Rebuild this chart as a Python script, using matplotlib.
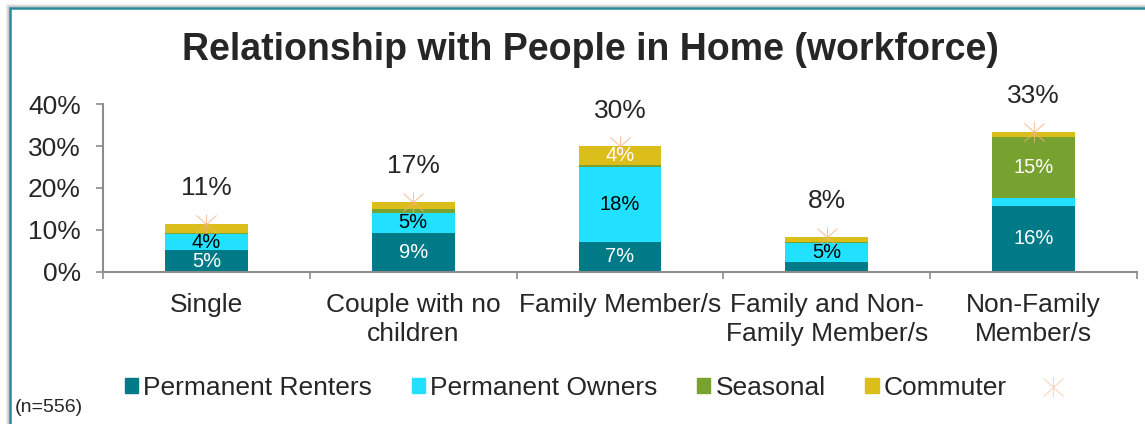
import matplotlib.pyplot as plt
from matplotlib.path import Path
from matplotlib.patches import Rectangle
from matplotlib.lines import Line2D

plt.rcParams['font.family'] = ['Liberation Sans', 'DejaVu Sans']

# data (percent of workforce)
categories = ["Single", "Couple with no\nchildren", "Family Member/s",
              "Family and Non-\nFamily Member/s", "Non-Family\nMember/s"]
renters = [5.1, 9.2, 7.2, 2.2, 15.8]
owners = [3.9, 4.9, 17.8, 4.7, 1.7]
seasonal = [0.2, 1.0, 0.6, 0.1, 14.6]
commuter = [2.2, 1.6, 4.4, 1.4, 1.3]

series_names = ["Permanent Renters", "Permanent Owners", "Seasonal", "Commuter"]
series_colors = ["#007A87", "#22E0FF", "#78A22F", "#DBBE1A"]
label_colors = ["white", "black", "white", "white"]

txt = "#262626"
axis_gray = "#8C8C8C"
star_col = "#F4B183"

# asterisk marker: X plus vertical stroke
star = Path([(-1, -0.9), (1, 0.9), (-1, 0.9), (1, -0.9), (0, -1), (0, 1)],
            [Path.MOVETO, Path.LINETO, Path.MOVETO, Path.LINETO, Path.MOVETO, Path.LINETO])

fig = plt.figure(figsize=(11.45, 4.24), dpi=100)
ax = fig.add_axes([103 / 1145, 1 - 271.7 / 424, 1034 / 1145, 167.4 / 424])

x = list(range(len(categories)))
all_series = [renters, owners, seasonal, commuter]
bottoms = [0.0] * len(categories)
for vals, name, col, lc in zip(all_series, series_names, series_colors, label_colors):
    ax.bar(x, vals, 0.40, bottom=bottoms, color=col, label=name)
    for i, v in enumerate(vals):
        if v >= 3.5:
            ax.text(i, bottoms[i] + v / 2, f"{v:.0f}%", ha="center", va="center",
                    color=lc, fontsize=14.5)
    bottoms = [b + v for b, v in zip(bottoms, vals)]

totals = bottoms
ax.plot(x, totals, linestyle="none", marker=star, markersize=14.5,
        markeredgecolor=star_col, markeredgewidth=0.8, alpha=0.75)
for i, t in enumerate(totals):
    ax.annotate(f"{t:.0f}%", (i, t), xytext=(0, 17), textcoords="offset points",
                ha="center", va="bottom", fontsize=19, color=txt)

ax.set_ylim(0, 40)
ax.set_xlim(-0.5, len(categories) - 0.5)
ax.set_yticks([0, 10, 20, 30, 40])
ax.set_yticklabels([f"{v}%" for v in [0, 10, 20, 30, 40]])
ax.tick_params(axis="y", length=5, width=1.2, color=axis_gray, labelsize=19,
               labelcolor=txt, pad=11)

ax.set_xticks([i - 0.5 for i in range(len(categories) + 1)])
ax.set_xticklabels([])
ax.set_xticks(x, minor=True)
ax.set_xticklabels(categories, minor=True, linespacing=1.3)
ax.tick_params(axis="x", which="major", length=5, width=1.2, color=axis_gray)
ax.tick_params(axis="x", which="minor", length=0, labelsize=19, labelcolor=txt, pad=15)

for s in ["top", "right"]:
    ax.spines[s].set_visible(False)
for s in ["left", "bottom"]:
    ax.spines[s].set_color(axis_gray)
    ax.spines[s].set_linewidth(1.5)

fig.text(590 / 1145, 1 - 50 / 424, "Relationship with People in Home (workforce)",
         ha="center", va="center", fontsize=27, fontweight="bold", color=txt)

handles = [Rectangle((0, 0), 1, 1, color=c) for c in series_colors]
handles.append(Line2D([], [], linestyle="none", marker=star, markersize=14.5,
                      markeredgecolor=star_col, markeredgewidth=0.8, alpha=0.5))
fig.legend(handles, series_names + [""], loc="center", ncol=5, frameon=False,
           bbox_to_anchor=(595 / 1145, 1 - 388 / 424), fontsize=19,
           handlelength=0.5, handleheight=0.5, handletextpad=0.2, columnspacing=1.5,
           labelcolor=txt)

fig.text(15 / 1145, 1 - 408 / 424, "(n=556)", ha="left", va="center",
         fontsize=14, color=txt)

# chart frame with soft shadow
for off, a in [(3, 0.10), (2, 0.18), (1, 0.28)]:
    fig.add_artist(Rectangle(((10 - off) / 1145, -0.1), 1.2, 1.1 - (8 - off) / 424,
                             transform=fig.transFigure, fill=False,
                             edgecolor="gray", alpha=a, linewidth=1.5))
fig.add_artist(Rectangle((10 / 1145, -0.1), 1.2, 1.1 - 8 / 424,
                         transform=fig.transFigure, fill=False,
                         edgecolor="#2A8C98", linewidth=1.8))

plt.savefig("out.png", dpi=100)
